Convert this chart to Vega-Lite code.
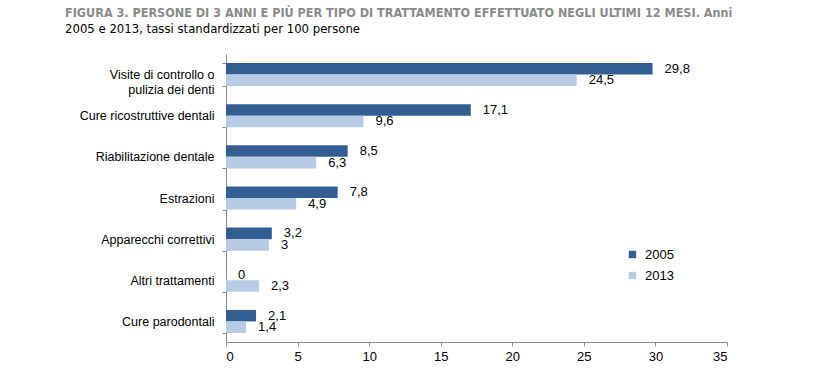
{
  "$schema": "https://vega.github.io/schema/vega-lite/v6.json",
  "autosize": "none",
  "width": 501,
  "height": 288,
  "padding": {"left": 226, "top": 54, "right": 98, "bottom": 29},
  "background": "white",
  "title": {
    "text": "FIGURA 3. PERSONE DI 3 ANNI E PIÙ PER TIPO DI TRATTAMENTO EFFETTUATO NEGLI ULTIMI 12 MESI. Anni",
    "subtitle": "2005 e 2013, tassi standardizzati per 100 persone",
    "anchor": "start",
    "frame": "group",
    "dx": -161,
    "font": "DejaVu Sans Condensed",
    "fontSize": 12.5,
    "fontWeight": "bold",
    "color": "#8a8a8a",
    "subtitleFont": "DejaVu Sans Condensed",
    "subtitleFontSize": 13,
    "subtitleColor": "#000000",
    "subtitlePadding": 4,
    "offset": 12
  },
  "config": {
    "locale": {"number": {"decimal": ",", "thousands": ".", "grouping": [3], "currency": ["", " €"]}},
    "view": {"stroke": null},
    "font": "Liberation Sans"
  },
  "data": {
    "values": [
      {"tipo": "Visite di controllo o pulizia dei denti", "anno": "2005", "valore": 29.8},
      {"tipo": "Visite di controllo o pulizia dei denti", "anno": "2013", "valore": 24.5},
      {"tipo": "Cure ricostruttive dentali", "anno": "2005", "valore": 17.1},
      {"tipo": "Cure ricostruttive dentali", "anno": "2013", "valore": 9.6},
      {"tipo": "Riabilitazione dentale", "anno": "2005", "valore": 8.5},
      {"tipo": "Riabilitazione dentale", "anno": "2013", "valore": 6.3},
      {"tipo": "Estrazioni", "anno": "2005", "valore": 7.8},
      {"tipo": "Estrazioni", "anno": "2013", "valore": 4.9},
      {"tipo": "Apparecchi correttivi", "anno": "2005", "valore": 3.2},
      {"tipo": "Apparecchi correttivi", "anno": "2013", "valore": 3},
      {"tipo": "Altri trattamenti", "anno": "2005", "valore": 0},
      {"tipo": "Altri trattamenti", "anno": "2013", "valore": 2.3},
      {"tipo": "Cure parodontali", "anno": "2005", "valore": 2.1},
      {"tipo": "Cure parodontali", "anno": "2013", "valore": 1.4}
    ]
  },
  "encoding": {
    "y": {
      "field": "tipo",
      "type": "nominal",
      "sort": null,
      "scale": {"paddingInner": 0.44, "paddingOuter": 0.22},
      "axis": {
        "title": null,
        "domainColor": "#8c8c8c",
        "tickColor": "#8c8c8c",
        "tickBand": "extent",
        "tickSize": 4,
        "labelFont": "Liberation Sans",
        "labelFontSize": 12.5,
        "labelColor": "#000000",
        "labelPadding": 8,
        "labelLineHeight": 15,
        "labelExpr": "datum.value == 'Visite di controllo o pulizia dei denti' ? ['Visite di controllo o', 'pulizia dei denti'] : datum.value"
      }
    },
    "yOffset": {"field": "anno", "type": "nominal", "sort": ["2005", "2013"]},
    "x": {
      "field": "valore",
      "type": "quantitative",
      "scale": {"domain": [0, 35], "nice": false},
      "axis": {
        "title": null,
        "grid": false,
        "values": [0, 5, 10, 15, 20, 25, 30, 35],
        "domainColor": "#8c8c8c",
        "tickColor": "#8c8c8c",
        "tickSize": 4,
        "labelFont": "Liberation Sans",
        "labelFontSize": 13,
        "labelColor": "#000000",
        "labelPadding": 4
      }
    }
  },
  "layer": [
    {
      "mark": {"type": "bar"},
      "encoding": {
        "color": {
          "field": "anno",
          "type": "nominal",
          "scale": {"domain": ["2005", "2013"], "range": ["#335e92", "#b7cbe5"]},
          "legend": {
            "title": null,
            "orient": "none",
            "legendX": 400,
            "legendY": 194,
            "symbolType": "square",
            "symbolSize": 55,
            "symbolStrokeWidth": 0,
            "labelFont": "Liberation Sans",
            "labelFontSize": 13,
            "labelColor": "#000000",
            "labelOffset": 6,
            "rowPadding": 7
          }
        }
      }
    },
    {
      "mark": {"type": "text", "align": "left", "baseline": "middle", "dx": 12, "fontSize": 13, "font": "Liberation Sans", "color": "#000000"},
      "encoding": {
        "text": {"field": "valore", "type": "quantitative", "format": ".1~f"}
      }
    }
  ]
}
